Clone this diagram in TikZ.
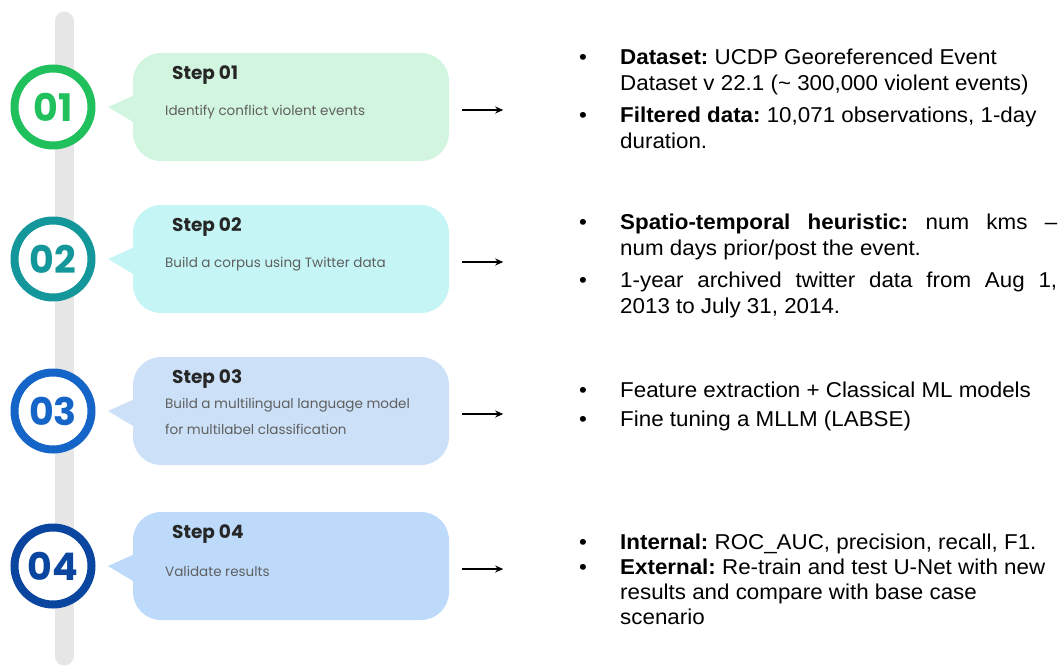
\documentclass[tikz,border=0pt]{standalone}
\usepackage{fontspec}
\usepackage{xcolor}
\usepackage{tikz}
\usetikzlibrary{positioning,arrows.meta}

\newfontfamily\popfont{Poppins}
\newfontfamily\arialfont[FakeStretch=1.04]{Liberation Sans}

\definecolor{ringA}{HTML}{20C05C}
\definecolor{ringB}{HTML}{14979A}
\definecolor{ringC}{HTML}{1565C8}
\definecolor{ringD}{HTML}{0A469F}
\definecolor{boxA}{HTML}{D2F5DF}
\definecolor{boxB}{HTML}{C5F5F5}
\definecolor{boxC}{HTML}{CCE1F8}
\definecolor{boxD}{HTML}{BDDAFB}
\definecolor{bargray}{HTML}{E6E6E6}
\definecolor{desctext}{HTML}{5F5F5F}

\tikzset{
  stepbox/.style={rounded corners=28, minimum width=316, minimum height=108, inner sep=0},
  ringnode/.style={circle, line width=8, fill=white, minimum size=77, inner sep=0,
    font=\popfont\bfseries\fontsize{38}{38}\selectfont},
  titlenode/.style={inner sep=0, text=black!85, font=\popfont\bfseries\fontsize{18.5}{20}\selectfont},
  descnode/.style={inner sep=0, align=left, text=desctext,
    font=\popfont\fontsize{13.5}{26}\selectfont},
  flow/.style={-{Stealth[length=8,width=7]}, line width=1.1},
  listnode/.style={inner sep=0, anchor=base west,
    font=\arialfont\frenchspacing\fontsize{21.5}{26}\selectfont}
}

\begin{document}
\begin{tikzpicture}[x=1pt,y=-1pt]
  \useasboundingbox (0,0) rectangle (1062,667);

  % timeline bar
  \draw[bargray, line width=19, line cap=round] (64,21) -- (64,656);

  \foreach \cy/\n/\ring/\shade/\desc in {
      107/01/ringA/boxA/{Identify conflict violent events},
      259/02/ringB/boxB/{Build a corpus using Twitter data},
      411/03/ringC/boxC/{Build a multilingual language model\\for multilabel classification},
      566/04/ringD/boxD/{Validate results}} {
    \node[stepbox, fill=\shade] (box\n) at (291,\cy) {};
    \fill[\shade] ([xshift=2,yshift=12]box\n.west) -- (108,\cy)
      -- ([xshift=2,yshift=-16]box\n.west) -- cycle;
    \node[ringnode, draw=\ring, text=\ring] (num\n) at (53,\cy) {\n};
    \node[titlenode, anchor=west] (title\n) at (172,\cy-32) {Step \n};
    \node[descnode, anchor=west] (desc\n) at (165,\cy+5) {\desc};
    \draw[flow] ([xshift=13,yshift=-3]box\n.east) -- ++(41,0);
  }

  % right-hand notes
  \node[listnode] (notes01) at (579,64) {%
    \begin{tabular}[t]{@{}p{41pt}@{}l@{}}
    \textbullet & \textbf{Dataset:} UCDP Georeferenced Event\\
      & Dataset v 22.1 (\textasciitilde{} 300,000 violent events)\\[6pt]
    \textbullet & \textbf{Filtered data:} 10,071 observations, 1-day\\
      & duration.
    \end{tabular}};

  \node[listnode] (notes02) at (579,229) {%
    \begin{tabular}[t]{@{}p{41pt}@{}l@{}}
    \textbullet & \makebox[437pt][s]{\textbf{Spatio-temporal heuristic:} num kms –}\\
      & num days prior/post the event.\\[6pt]
    \textbullet & \makebox[437pt][s]{1-year archived twitter data from Aug 1,}\\
      & 2013 to July 31, 2014.
    \end{tabular}};

  \node[listnode] (notes03) at (579,397) {%
    \begin{tabular}[t]{@{}p{41pt}@{}l@{}}
    \textbullet & Feature extraction + Classical ML models\\[3pt]
    \textbullet & Fine tuning a MLLM (LABSE)
    \end{tabular}};

  \node[listnode] (notes04) at (579,549) {%
    \begin{tabular}[t]{@{}p{41pt}@{}l@{}}
    \textbullet & \textbf{Internal:} ROC\_AUC, precision, recall, F1.\\[-1pt]
    \textbullet & \textbf{External:} Re-train and test U-Net with new\\[-1pt]
      & results and compare with base case\\[-1pt]
      & scenario
    \end{tabular}};
\end{tikzpicture}
\end{document}
